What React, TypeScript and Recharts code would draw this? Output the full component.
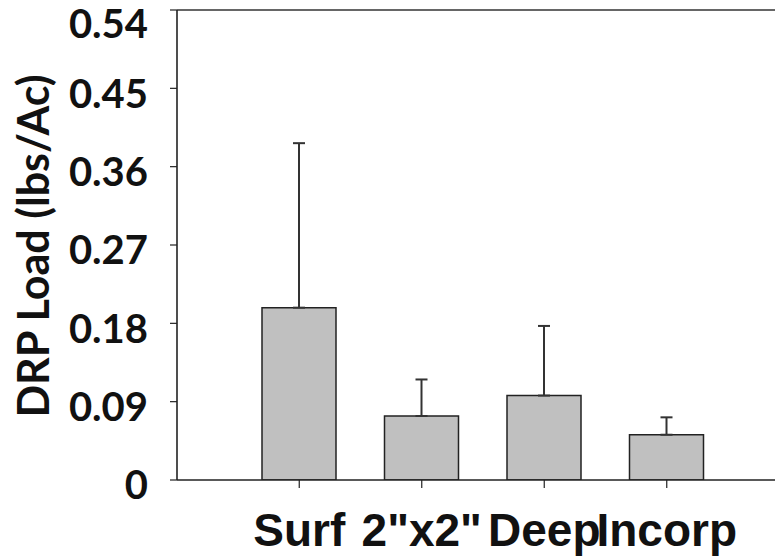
import React from 'react';
import { BarChart, Bar, XAxis, YAxis, ErrorBar, ReferenceLine } from 'recharts';

const categories = ['Surf', '2"x2"', 'Deep', 'Incorp'];
const means = [0.198, 0.0735, 0.097, 0.052];
const errUpper = [0.189, 0.042, 0.08, 0.02];
const yTicks = [0, 0.09, 0.18, 0.27, 0.36, 0.45, 0.54];
const yTickLabels = ['0', '0.09', '0.18', '0.27', '0.36', '0.45', '0.54'];
const yAxisTitle = 'DRP Load (lbs/Ac)';

const data = categories.map((c, i) => ({
  name: c,
  value: means[i],
  err: [0, errUpper[i]],
}));

const YTick = (props: any) => {
  const { x, y, payload } = props;
  const idx = yTicks.indexOf(payload.value);
  const label = idx >= 0 ? yTickLabels[idx] : String(payload.value);
  const fs = 40;
  const cy = Math.max(y + 5, 16);
  return (
    <text
      x={x}
      y={cy + 0.36 * fs}
      textAnchor="end"
      fontFamily="Lato, 'Open Sans', sans-serif"
      fontWeight={700}
      fontSize={fs}
      fill="#111"
    >
      {label}
    </text>
  );
};

const XTick = (props: any) => {
  const { x, y, payload } = props;
  const fs = 46;
  return (
    <text
      x={x}
      y={y + 0.71 * fs}
      textAnchor="middle"
      fontFamily="'Liberation Sans', Arial, sans-serif"
      fontWeight={700}
      fontSize={fs}
      fill="#111"
    >
      {payload.value}
    </text>
  );
};

const YTitle = (props: any) => {
  const vb = props.viewBox || { x: 0, y: 0, width: 0, height: 0 };
  const cx = vb.x + 24;
  const cy = vb.y + vb.height / 2 + 1;
  return (
    <text
      x={cx}
      y={cy}
      transform={`rotate(-90 ${cx} ${cy})`}
      textAnchor="middle"
      dominantBaseline="central"
      fontFamily="Lato, 'Open Sans', sans-serif"
      fontWeight={700}
      fontSize={43}
      fill="#111"
    >
      {yAxisTitle}
    </text>
  );
};

export default function App() {
  return (
    <div style={{ background: '#fff' }}>
      <BarChart
        width={775}
        height={551}
        data={data}
        margin={{ top: 2, right: 2, left: 0, bottom: 0 }}
        barCategoryGap={0}
      >
        <XAxis
          dataKey="name"
          height={79}
          padding={{ left: 61, right: 52 }}
          axisLine={{ stroke: '#222', strokeWidth: 1.6 }}
          tickLine={{ stroke: '#222', strokeWidth: 1.2 }}
          tickSize={8}
          tickMargin={25}
          tick={<XTick />}
          interval={0}
        />
        <YAxis
          width={169}
          domain={[0, 0.54]}
          ticks={yTicks}
          allowDataOverflow
          axisLine={{ stroke: '#222', strokeWidth: 1.6 }}
          tickLine={{ stroke: '#222', strokeWidth: 1.2 }}
          tickSize={7}
          tickMargin={22}
          tick={<YTick />}
          interval={0}
          label={{ content: (p: any) => <YTitle {...p} /> }}
        />
        <YAxis
          yAxisId="right"
          orientation="right"
          width={1}
          domain={[0, 0.54]}
          tick={false}
          tickLine={false}
          axisLine={{ stroke: '#d8d8d8', strokeWidth: 1 }}
        />
        <ReferenceLine y={0.54} stroke="#333" strokeWidth={1.6} />
        <Bar
          dataKey="value"
          fill="#c0c0c0"
          stroke="#222"
          strokeWidth={1.5}
          barSize={74}
          isAnimationActive={false}
        >
          <ErrorBar dataKey="err" direction="y" width={6} stroke="#333" strokeWidth={2} />
        </Bar>
      </BarChart>
    </div>
  );
}
